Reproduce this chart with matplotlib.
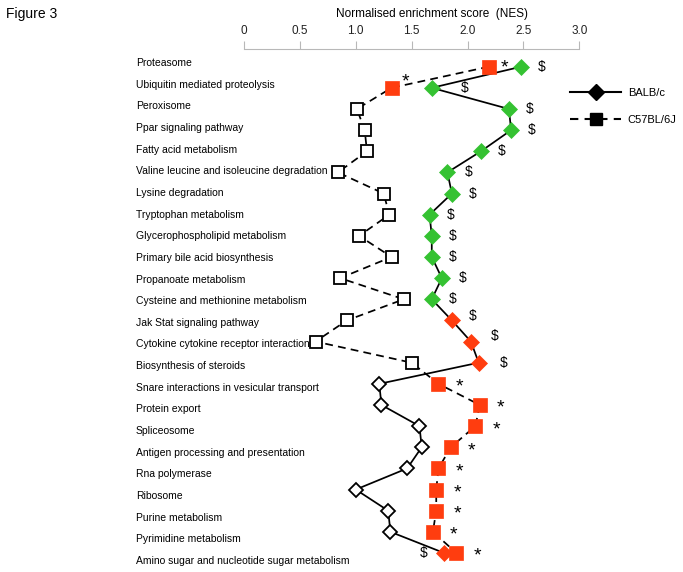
import matplotlib
matplotlib.use("Agg")
import matplotlib.pyplot as plt
from matplotlib.lines import Line2D

plt.rcParams['font.family'] = ['Liberation Sans', 'DejaVu Sans']

pathways = [
    "Proteasome", "Ubiquitin mediated proteolysis", "Peroxisome",
    "Ppar signaling pathway", "Fatty acid metabolism",
    "Valine leucine and isoleucine degradation", "Lysine degradation",
    "Tryptophan metabolism", "Glycerophospholipid metabolism",
    "Primary bile acid biosynthesis", "Propanoate metabolism",
    "Cysteine and methionine metabolism", "Jak Stat signaling pathway",
    "Cytokine cytokine receptor interaction", "Biosynthesis of steroids",
    "Snare interactions in vesicular transport", "Protein export",
    "Spliceosome", "Antigen processing and presentation", "Rna polymerase",
    "Ribosome", "Purine metabolism", "Pyrimidine metabolism",
    "Amino sugar and nucleotide sugar metabolism",
]

balb_nes = [2.48, 1.68, 2.37, 2.39, 2.12, 1.82, 1.86, 1.66, 1.68, 1.68,
            1.77, 1.68, 1.86, 2.03, 2.10, 1.21, 1.23, 1.57, 1.59, 1.46,
            1.00, 1.29, 1.31, 1.79]
# 'g' = green, 'r' = red, 'w' = not significant (open marker)
balb_class = list("gggggggggggg" + "rrr" + "wwwwwwww" + "r")
balb_dollar = [True] * 15 + [False] * 8 + [True]

c57_nes = [2.19, 1.32, 1.01, 1.08, 1.10, 0.84, 1.25, 1.30, 1.03, 1.32,
           0.86, 1.43, 0.92, 0.64, 1.50, 1.74, 2.11, 2.07, 1.85, 1.74,
           1.72, 1.72, 1.69, 1.90]
c57_class = list("rr" + "w" * 13 + "r" * 9)
c57_star = [True, True] + [False] * 13 + [True] * 9

xticks = [0, 0.5, 1.0, 1.5, 2.0, 2.5, 3.0]
xticklabels = ["0", "0.5", "1.0", "1.5", "2.0", "2.5", "3.0"]

GREEN = "#35c232"
RED = "#ff3d0f"
face = {"g": GREEN, "r": RED, "w": "white"}
edge = {"g": GREEN, "r": RED, "w": "black"}

W, H = 683, 572
fig = plt.figure(figsize=(W / 100, H / 100), dpi=100)
ax = fig.add_axes([244 / W, 0.0, (579.3 - 244) / W, 1 - 49.3 / H])

n = len(pathways)
rows = list(range(n))

# connecting lines
ax.plot(c57_nes, rows, color="black", lw=1.25, ls=(0, (4.5, 3)), zorder=2, clip_on=False)
ax.plot(balb_nes, rows, color="black", lw=1.25, ls="-", zorder=2, clip_on=False)

for i in rows:
    c = c57_class[i]
    ax.plot(c57_nes[i], i, marker="s", ms=10.3 if c != "w" else 9.0,
            mfc=face[c], mec=edge[c], mew=1.3 if c == "w" else 0.5,
            zorder=3, clip_on=False)
    b = balb_class[i]
    ax.plot(balb_nes[i], i, marker="D", ms=8.2 if b != "w" else 7.6,
            mfc=face[b], mec=edge[b], mew=1.3 if b == "w" else 0.5,
            zorder=4, clip_on=False)

# significance annotations
for i in rows:
    if balb_dollar[i]:
        dx, dy = 15, 0
        if pathways[i].startswith("Ubiquitin"):
            dx = 24
        elif pathways[i].startswith("Amino"):
            dx = -15
        elif pathways[i].startswith("Jak"):
            dy = 3
        elif pathways[i].startswith("Cytokine"):
            dx, dy = 17, 4
        elif pathways[i].startswith("Biosynthesis"):
            dx = 18
        ax.annotate("$", (balb_nes[i], i), xytext=(dx, dy), textcoords="offset points",
                    ha="center", va="center", fontsize=10, annotation_clip=False)
    if c57_star[i]:
        dx, dy = 15, -2.5
        if pathways[i].startswith("Ubiquitin"):
            dx, dy = 10, 4
        elif pathways[i].startswith("Proteasome"):
            dx, dy = 11, -1
        ax.annotate("*", (c57_nes[i], i), xytext=(dx, dy), textcoords="offset points",
                    ha="center", va="center", fontsize=14, annotation_clip=False)

# axes setup
ax.set_xlim(0, 3.0)
ax.set_ylim(23.9, -0.823)
ax.xaxis.set_ticks_position("top")
ax.xaxis.set_label_position("top")
ax.set_xticks(xticks)
ax.set_xticklabels(xticklabels)
ax.tick_params(axis="x", direction="out", length=6, width=0.8, color="#b8b8b8",
               labelsize=8.5, pad=3, labelcolor="#222222")
for s in ["left", "right", "bottom"]:
    ax.spines[s].set_visible(False)
ax.spines["top"].set_color("#b8b8b8")
ax.spines["top"].set_linewidth(0.8)

# pathway labels (slightly different spacing than markers)
label_pos = [(62 + 21.65 * i - 66.7) / 21.14 for i in rows]
ax.set_yticks(label_pos)
ax.set_yticklabels(pathways)
ax.tick_params(axis="y", length=0, pad=(244 - 136) * 0.72, labelsize=7.5)
for t in ax.get_yticklabels():
    t.set_ha("left")

fig.text(432 / W, 1 - 14 / H, "Normalised enrichment score  (NES)", ha="center",
         va="center", fontsize=8.5)
fig.text(6 / W, 1 - 14 / H, "Figure 3", ha="left", va="center", fontsize=10)

handles = [
    Line2D([], [], color="black", lw=1.5, marker="D", ms=8.5, mfc="black", mec="black"),
    Line2D([], [], color="black", lw=1.5, ls=(0, (4, 3)), marker="s", ms=9,
           mfc="black", mec="black"),
]
fig.legend(handles, ["BALB/c", "C57BL/6J"], loc="upper left",
           bbox_to_anchor=(560 / W, 1 - 78 / H), frameon=False, fontsize=8,
           handlelength=4.6, handletextpad=0.6, labelspacing=1.5)

fig.savefig("out.png", dpi=100)
